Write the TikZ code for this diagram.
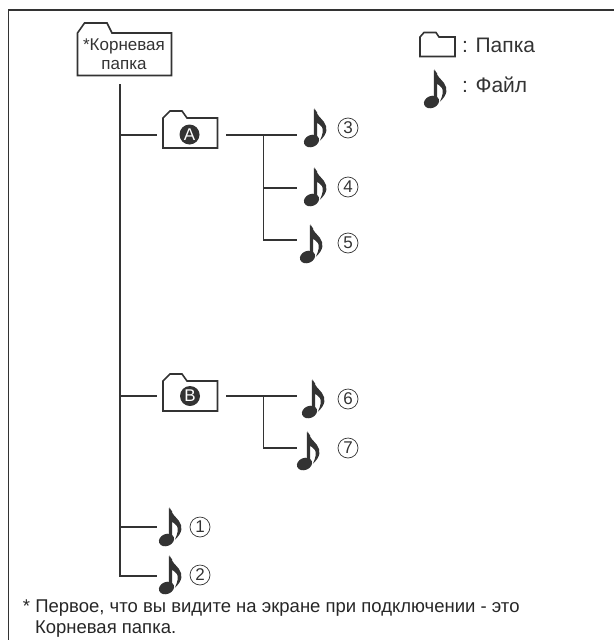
\documentclass[tikz,border=0pt]{standalone}
\usepackage{fontspec}
\setmainfont{Liberation Sans}
\definecolor{ink}{HTML}{333333}
\tikzset{
  link/.style={draw=ink,line width=1.8pt},
  folderline/.style={draw=ink,line width=1.6pt,line join=miter},
  txt/.style={text=ink,inner sep=0pt,outer sep=0pt},
  numcirc/.style={circle,draw=ink,line width=0.7pt,minimum size=20pt,inner sep=0pt,text=ink,font=\fontsize{17}{17}\selectfont},
  badge/.style={circle,fill=ink,minimum size=20pt,inner sep=0pt,text=white,font=\fontsize{17}{17}\selectfont},
  notebox/.style={minimum width=23pt,minimum height=40pt,inner sep=0pt,outer sep=0pt}
}
% #1 name, #2 left, #3 top
\newcommand{\notemark}[3]{%
  \node[notebox] (#1) at (#2+11.5,#3+20) {};
  \begin{scope}[shift={(#2,#3)}]
    \fill[ink,rotate around={22:(7.5,33)}] (7.5,33) ellipse (7.8 and 6);
    \fill[ink] (9.8,1) -- (13,4) -- (13,33) -- (9.8,33) -- cycle;
    \fill[ink] (10.5,0) .. controls (12.5,7) and (17,10) .. (20,14)
      .. controls (24,19.5) and (23.5,26) .. (16,32.5)
      .. controls (19,26) and (19.5,22) .. (18,19)
      .. controls (16.5,16) and (13,15.5) .. (11,14) -- cycle;
  \end{scope}}
% folder outline: left, top, right, bottom, tab end, tab height
\newcommand{\folderoutline}[6]{%
  \draw[folderline] (#1,#4) -- (#1,#2+#6) -- (#1+7,#2) -- (#5-5,#2) -- (#5,#2+#6) -- (#3,#2+#6) -- (#3,#4) -- cycle;}
\begin{document}
\begin{tikzpicture}[x=1pt,y=-1pt]
\useasboundingbox (0,0) rectangle (614,640);
% frame
\draw[ink,line width=1.4pt] (8.7,640) -- (8.7,10) -- (614,10);
% folders
\folderoutline{77.5}{23}{171.5}{75.5}{112}{10}
\node[txt,anchor=base,font=\fontsize{17}{17}\selectfont] (root) at (124,50) {*Корневая};
\node[txt,anchor=base,font=\fontsize{17}{17}\selectfont] (root2) at (124,69) {папка};
\folderoutline{163}{111}{217.5}{148}{187}{7}
\node[badge] (a) at (189.5,134.5) {A};
\folderoutline{163}{374}{217.5}{411}{187}{7}
\node[badge] (b) at (190,396) {B};
% notes
\notemark{n3}{304}{108}
\notemark{n4}{304}{167}
\notemark{n5}{300}{224}
\notemark{n6}{302}{379}
\notemark{n7}{297}{431}
\notemark{n1}{159}{507}
\notemark{n2}{159}{555}
% number circles
\node[numcirc] (c3) at (348,128) {3};
\node[numcirc] (c4) at (348,187) {4};
\node[numcirc] (c5) at (348,243) {5};
\node[numcirc] (c6) at (348,399) {6};
\node[numcirc] (c7) at (348,448) {7};
\node[numcirc] (c1) at (200,527) {1};
\node[numcirc] (c2) at (200,575) {2};
% connectors
\coordinate (t0) at (120,84);
\coordinate (ta) at (120,135);
\coordinate (tb) at (120,396);
\coordinate (t1) at (120,527);
\coordinate (t2) at (120,576);
\coordinate (ae) at (157,135);
\coordinate (be) at (157,396);
\coordinate (e1) at (157,527);
\coordinate (e2) at (157,576);
\coordinate (as) at (226,135);
\coordinate (aj) at (263.5,135);
\coordinate (a3) at (297,135);
\coordinate (aj4) at (263.5,188);
\coordinate (a4) at (297,188);
\coordinate (aj5) at (263.5,240);
\coordinate (a5) at (297,240);
\coordinate (bs) at (226,396);
\coordinate (bj) at (263.5,396);
\coordinate (b6) at (297,396);
\coordinate (bj7) at (263.5,448);
\coordinate (b7) at (297,448);
\draw[link] (t0) -- (t2) -- (e2);
\draw[link] (ta) -- (ae);
\draw[link] (tb) -- (be);
\draw[link] (t1) -- (e1);
\draw[link] (as) -- (a3);
\draw[link] (aj) -- (aj5) -- (a5);
\draw[link] (aj4) -- (a4);
\draw[link] (bs) -- (b6);
\draw[link] (bj) -- (bj7) -- (b7);
% legend
\draw[folderline] (420,56.5) -- (420,37) -- (424,32.5) -- (436,32.5) -- (439,37) -- (455,37) -- (455,56.5) -- cycle;
\node[txt,anchor=base west,font=\fontsize{21}{21}\selectfont] (lf) at (462,52) {: Папка};
\notemark{ln}{424}{69}
\node[txt,anchor=base west,font=\fontsize{21}{21}\selectfont] (ln2) at (462,92) {: Файл};
% footnote
\node[txt,anchor=base west,font=\fontsize{18.5}{18.5}\selectfont,text=black!85] (fn1) at (23,612) {* Первое, что вы видите на экране при подключении - это};
\node[txt,anchor=base west,font=\fontsize{18.5}{18.5}\selectfont,text=black!85] (fn2) at (35,633) {Корневая папка.};
\end{tikzpicture}
\end{document}
